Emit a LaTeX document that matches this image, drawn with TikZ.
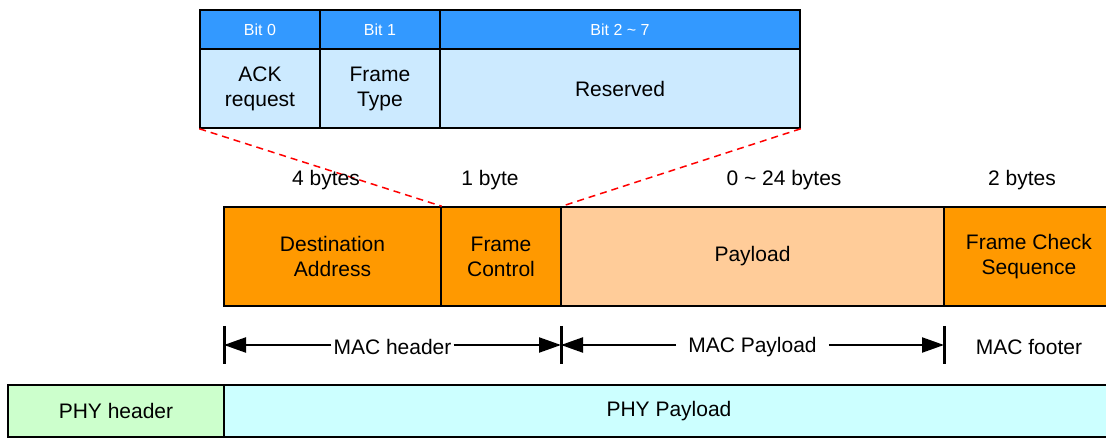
\documentclass[tikz,border=0pt]{standalone}
\usepackage{fontspec}
\setmainfont{Liberation Sans}
\usetikzlibrary{arrows.meta}
\definecolor{hdrblue}{RGB}{51,153,255}
\definecolor{cellblue}{RGB}{204,234,255}
\definecolor{orng}{RGB}{255,153,0}
\definecolor{lorng}{RGB}{255,204,153}
\definecolor{lgreen}{RGB}{204,255,204}
\definecolor{lcyan}{RGB}{204,255,255}
\begin{document}
\begin{tikzpicture}[x=1pt,y=-1pt,
  cell/.style={draw=black, line width=1.5pt, inner sep=0pt, align=center,
    font=\fontsize{21}{25}\selectfont},
  hdr/.style={cell, fill=hdrblue, text=white, font=\fontsize{16}{19}\selectfont, minimum height=39pt},
  bitcell/.style={cell, fill=cellblue, minimum height=79pt},
  field/.style={cell, minimum height=99pt},
  phy/.style={cell, minimum height=52pt},
  lbl/.style={font=\fontsize{21}{25}\selectfont, inner sep=0pt},
  reddash/.style={draw=red, line width=1.5pt, dash pattern=on 7pt off 5pt},
  tickline/.style={line width=3pt},
  dimarrow/.style={line width=2.2pt, -{Triangle[length=22pt,width=15pt]}}
]
\clip (0,0) rectangle (1106,438);
\fill[white] (0,0) rectangle (1106,438);

% bit table
\node[hdr, minimum width=120pt] (h0) at (260,29.5) {Bit 0};
\node[hdr, minimum width=120pt] (h1) at (380,29.5) {Bit 1};
\node[hdr, minimum width=360pt] (h2) at (620,29.5) {Bit 2 \textasciitilde{} 7};
\node[bitcell, minimum width=120pt] (c0) at (260,88.5) {ACK\\request};
\node[bitcell, minimum width=120pt] (c1) at (380,88.5) {Frame\\Type};
\node[bitcell, minimum width=360pt] (c2) at (620,88.5) {Reserved};

% MAC frame
\node[field, fill=orng, minimum width=217pt] (da) at (332.5,256.5) {Destination\\Address};
\node[field, fill=orng, minimum width=120pt] (fc) at (501,256.5) {Frame\\Control};
\node[field, fill=lorng, minimum width=383pt] (pl) at (752.5,256.5) {Payload};
\node[field, fill=orng, minimum width=170pt] (fcs) at (1029,256.5) {Frame Check\\Sequence};

% zoom lines
\draw[reddash] (c0.south west) -- (da.north east);
\draw[reddash] (c2.south east) -- (fc.north east);

% byte counts
\node[lbl] (b1) at (326,180) {4 bytes};
\node[lbl] (b2) at (490,180) {1 byte};
\node[lbl] (b3) at (784,180) {0 \textasciitilde{} 24 bytes};
\node[lbl] (b4) at (1022,180) {2 bytes};

% dimension ticks
\coordinate (t1a) at (224,326); \coordinate (t1b) at (224,364);
\coordinate (t2a) at (561,326); \coordinate (t2b) at (561,364);
\coordinate (t3a) at (944,326); \coordinate (t3b) at (944,364);
\draw[tickline] (t1a) -- (t1b);
\draw[tickline] (t2a) -- (t2b);
\draw[tickline] (t3a) -- (t3b);
\coordinate (k1) at (224,345);
\coordinate (k2) at (561,345);
\coordinate (k3) at (944,345);

\node[lbl, inner xsep=2pt] (mh) at (392.5,347) {MAC header};
\draw[dimarrow] (mh.west |- k1) -- (k1);
\draw[dimarrow] (mh.east |- k2) -- (k2);
\node[lbl, inner xsep=12pt] (mp) at (752.5,347) {MAC Payload};
\draw[dimarrow] (mp.west |- k2) -- (k2);
\draw[dimarrow] (mp.east |- k3) -- (k3);
\node[lbl] (mf) at (1029,347) {MAC footer};

% PHY
\node[phy, fill=lgreen, minimum width=216pt] (ph) at (116,411) {PHY header};
\node[phy, fill=lcyan, minimum width=890pt] (pp) at (669,411) {PHY Payload};
\end{tikzpicture}
\end{document}
